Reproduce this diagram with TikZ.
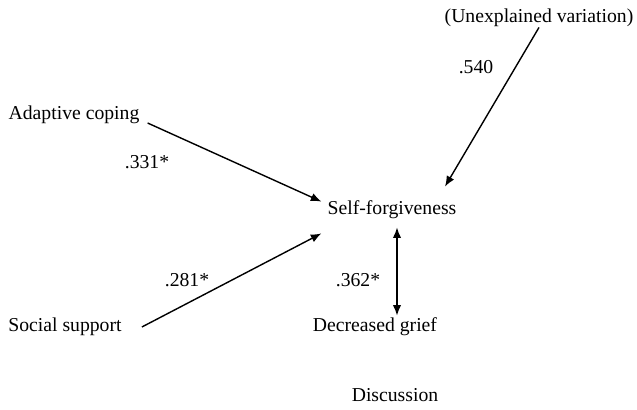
\documentclass[tikz,border=0pt]{standalone}
\usepackage{fontspec}
\setmainfont{Liberation Serif}
\usetikzlibrary{arrows.meta,calc}
\tikzstyle{varbox}=[inner sep=0pt,text height=10pt,text depth=3pt,font=\fontsize{14}{16}\selectfont]
\tikzstyle{edge} = [draw,line width=1pt,-{Latex[length=7.5pt,width=6pt]}]
\tikzstyle{twoway} = [draw,line width=1pt,{Latex[length=7.5pt,width=6pt]}-{Latex[length=7.5pt,width=6pt]}]
\tikzstyle{weight} = [inner sep=0pt,font=\fontsize{14}{16}\selectfont]

\begin{document}
\begin{tikzpicture}[x=0.025cm,y=-0.025cm]
    \useasboundingbox (0,0) rectangle (637,409);
    % First we draw the variables
    \foreach \pos/\name/\txt in {{(74,115)/AC/Adaptive coping},{(65,327)/SS/Social support},
        {(392,210)/SF/Self-forgiveness},{(375,327)/DG/Decreased grief},
        {(539,18)/UV/{(Unexplained variation)}},{(395,397)/DI/Discussion}}
        \node[varbox] (\name) at \pos {\txt};

    % Then the path coefficients
    \foreach \pos/\name/\weight in {{(147,162)/wAC/.331*},{(187,280)/wSS/.281*},
        {(358,280)/wDG/.362*},{(476,67)/wUV/.540}}
        \node[weight] (\name) at \pos {\weight};

    % Connect the predictors with self-forgiveness
    \path[edge] ($(AC.east)+(8,8)$) -- ($(SF.north west)+(-6,1)$);
    \path[edge] ($(SS.east)+(20,0)$) -- ($(SF.south west)+(-6,14)$);
    \path[edge] (UV.south) -- ($(SF.north)+(53,-14)$);

    % Correlation with grief
    \coordinate (SFbot) at ($(SF.south)+(5,8)$);
    \path[twoway] (SFbot) -- ($(SFbot |- DG.north)+(0,-2)$);
\end{tikzpicture}
\end{document}
